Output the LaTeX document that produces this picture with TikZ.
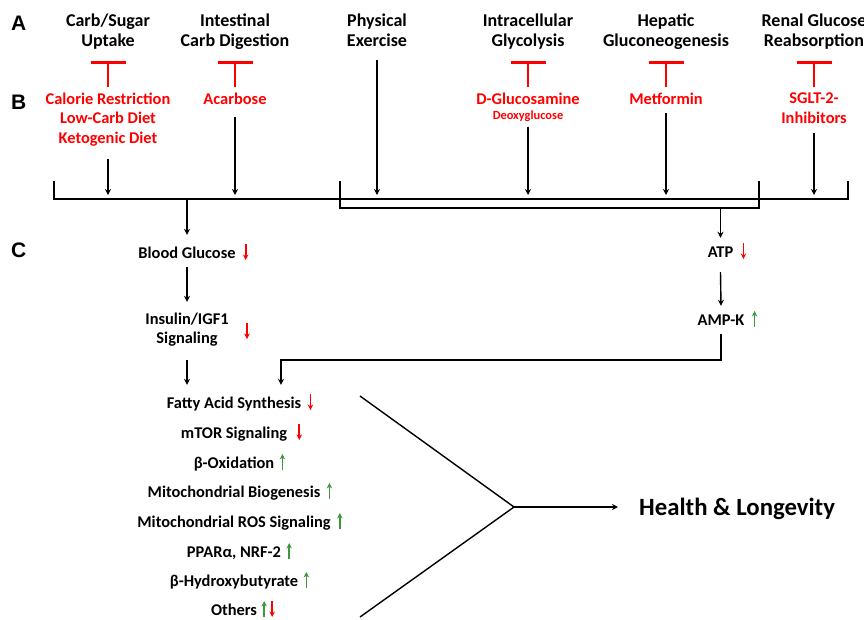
\documentclass[tikz,border=0pt]{standalone}
\usepackage{fontspec}
\setmainfont{Carlito}
\newfontfamily\labfont{Liberation Sans}
\usetikzlibrary{arrows.meta}
\definecolor{inhred}{RGB}{255,0,0}
\definecolor{upgreen}{RGB}{64,150,64}
\newcommand\dnmark[2]{\draw[dnarr] ([xshift=#2]#1.base east) ++(0,-14) -- ++(0,16);}
\newcommand\upmark[2]{\draw[uparr] ([xshift=#2]#1.base east) ++(0,2) -- ++(0,-16);}
\begin{document}
\begin{tikzpicture}[x=1pt,y=-1pt,
  hdr/.style={font=\fontsize{18}{20}\selectfont\bfseries, align=center, inner sep=0pt, anchor=base},
  drug/.style={font=\fontsize{16.4}{19.5}\selectfont\bfseries, text=inhred, align=center, inner sep=0pt, anchor=base},
  midtxt/.style={font=\fontsize{16.4}{18.5}\selectfont\bfseries, align=center, inner sep=0pt, anchor=base},
  lab/.style={font=\labfont\fontsize{21}{24}\selectfont\bfseries, inner sep=0pt, anchor=base west},
  conn/.style={line width=1.4pt, black, line join=miter},
  arr/.style={conn, -{Stealth[length=6pt,width=6pt]}},
  inhibit/.style={inhred, line width=2.6pt, -{Bar[width=35pt]}},
  dnarr/.style={inhred, line width=1.7pt, -{Stealth[length=5.5pt,width=5.5pt]}},
  uparr/.style={upgreen, line width=1.7pt, -{Stealth[length=5.5pt,width=5.5pt]}},
]
\useasboundingbox (0,0) rectangle (864,619);

% section labels
\node[lab] (la) at (11,30) {A};
\node[lab] (lb) at (11,109) {B};
\node[lab] (lc) at (11,257) {C};

% row A (base = baseline of the last line)
\node[hdr] (h1) at (108,46) {Carb/Sugar\\Uptake};
\node[hdr] (h2) at (235,46) {Intestinal\\Carb Digestion};
\node[hdr] (h3) at (377,46) {Physical\\Exercise};
\node[hdr] (h4) at (528,46) {Intracellular\\Glycolysis};
\node[hdr] (h5) at (666,46) {Hepatic\\Gluconeogenesis};
\node[hdr] (h6) at (814,46) {Renal Glucose\\Reabsorption};

% row B
\node[drug] (d1) at (108,143) {Calorie Restriction\\Low-Carb Diet\\Ketogenic Diet};
\node[drug] (d2) at (235,104) {Acarbose};
\node[drug] (d4) at (528,104) {D-Glucosamine};
\node[drug, font=\fontsize{12.4}{14}\selectfont\bfseries] (d4x) at (528,119) {Deoxyglucose};
\node[drug] (d5) at (666,104) {Metformin};
\node[drug] (d6) at (814,123) {SGLT-2-\\Inhibitors};

% levels
\coordinate (yT) at (0,61);
\coordinate (yS) at (0,87);
\coordinate (yTip) at (0,195);
\coordinate (ybr1) at (0,199);
\coordinate (ybr2) at (0,208);

% inhibition
\draw[inhibit] (d1 |- yS) -- (h1 |- yT);
\draw[inhibit] (d2 |- yS) -- (h2 |- yT);
\draw[inhibit] (d4 |- yS) -- (h4 |- yT);
\draw[inhibit] (d5 |- yS) -- (h5 |- yT);
\draw[inhibit] (d6 |- yS) -- (h6 |- yT);

% arrows into brackets
\draw[arr] ([yshift=-12.6pt]d1.south) -- (d1 |- yTip);
\draw[arr] ([yshift=-13pt]d2.south) -- (d2 |- yTip);
\draw[arr] ([yshift=-14pt]h3.south) -- (h3 |- yTip);
\draw[arr] ([yshift=-5.4pt]d4x.south) -- (d4x |- yTip);
\draw[arr] ([yshift=-9pt]d5.south) -- (d5 |- yTip);
\draw[arr] ([yshift=-10pt]d6.south) -- (d6 |- yTip);

% brackets
\draw[conn] (54,181) -- (54,199) -- (848,199) -- (848,181);
\draw[conn] (340,181) -- (340,208) -- (759,208) -- (759,181);

% row C
\node[midtxt] (bg) at (187,258) {Blood Glucose};
\node[midtxt] (ins) at (187,343) {Insulin/IGF1\\Signaling};
\node[midtxt] (atp) at (720.5,257) {ATP};
\node[midtxt] (ampk) at (721,325) {AMP-K};

\node[midtxt] (l1) at (234,408) {Fatty Acid Synthesis};
\node[midtxt] (l2) at (234,438) {mTOR Signaling};
\node[midtxt] (l3) at (234,468) {β-Oxidation};
\node[midtxt] (l4) at (234,497) {Mitochondrial Biogenesis};
\node[midtxt] (l5) at (234,527) {Mitochondrial ROS Signaling};
\node[midtxt] (l6) at (234,557) {PPARα, NRF-2};
\node[midtxt] (l7) at (234,586) {β-Hydroxybutyrate};
\node[midtxt] (l8) at (234,615) {Others};

\draw[arr] (bg |- ybr1) -- ([yshift=11.5pt]bg.north);
\draw[arr] (atp |- ybr2) -- ([yshift=8.4pt]atp.north);
\draw[arr] ([yshift=-9pt]bg.south) -- ([yshift=11pt]ins.north);
\draw[arr] ([yshift=-15pt]atp.south) -- ([yshift=8.4pt]ampk.north);
\draw[arr] ([yshift=-13.6pt]ins.south) -- ([yshift=11.5pt]ins.south |- l1.north);
\coordinate (jn) at (281,360);
\draw[arr] ([yshift=-9pt]ampk.south) -- (ampk.south |- jn) -- (jn) -- ([yshift=11.5pt]jn |- l1.north);

% convergence
\coordinate (vt) at (360,396);
\coordinate (vm) at (514,507);
\coordinate (vb) at (360,617);
\node[font=\fontsize{24.8}{28}\selectfont\bfseries, inner sep=0pt, anchor=base west] (hl) at (639,515) {Health \& Longevity};
\draw[conn] (vt) -- (vm) -- (vb);
\draw[arr] (vm) -- ([xshift=-21pt]vm -| hl.west);

% up / down marks
\dnmark{bg}{10pt}
\dnmark{atp}{10pt}
\draw[dnarr] (247,323) -- (247,339);
\upmark{ampk}{10pt}
\dnmark{l1}{9pt}
\dnmark{l2}{12pt}
\upmark{l3}{8pt}
\upmark{l4}{9pt}
\upmark{l5}{9pt}
\upmark{l6}{8pt}
\upmark{l7}{8pt}
\upmark{l8}{7pt}
\dnmark{l8}{15pt}
\end{tikzpicture}
\end{document}
